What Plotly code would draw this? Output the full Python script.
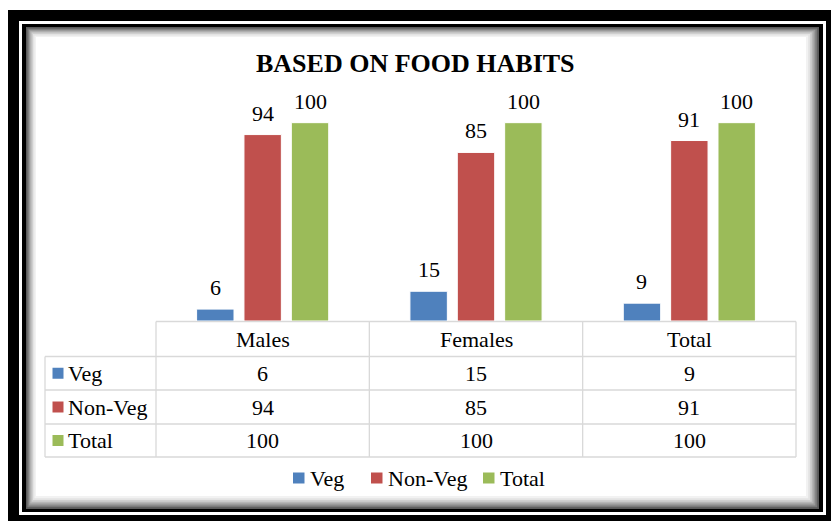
import plotly.graph_objects as go

# ---------------- data ----------------
categories = ["Males", "Females", "Total"]
series_names = ["Veg", "Non-Veg", "Total"]
veg = [6, 15, 9]
non_veg = [94, 85, 91]
total = [100, 100, 100]
series_values = [veg, non_veg, total]
title_text = "BASED ON FOOD HABITS"

# ---------------- style ----------------
W, H = 831, 521
colors = ["#4F81BD", "#C0504D", "#9BBB59"]
FONT = "Liberation Serif"
FS = 22
GRID = "#D9D9D9"

def px(x):
    return x / W

def py(y):
    return 1 - y / H

# plot-area geometry (pixels)
X0, X1 = 156, 796          # category band area == table value columns
BASE, TOP = 321, 83        # baseline and top of y range
BARGAP = 0.334
GROUPGAP = 0.21

fig = go.Figure()
for name, vals, col in zip(series_names, series_values, colors):
    fig.add_trace(go.Bar(
        x=categories, y=vals, name=name,
        marker=dict(color=col, line=dict(color="white", width=1)),
        showlegend=False,
    ))

shapes = []
annotations = []

def rect(x0, y0, x1, y1, fill, layer="below"):
    shapes.append(dict(type="rect", xref="paper", yref="paper",
                       x0=px(x0), x1=px(x1), y0=py(y1), y1=py(y0),
                       fillcolor=fill, line=dict(width=0), layer=layer))

def line(x0, y0, x1, y1, color=GRID, width=1.3):
    shapes.append(dict(type="line", xref="paper", yref="paper",
                       x0=px(x0), x1=px(x1), y0=py(y0), y1=py(y1),
                       line=dict(color=color, width=width), layer="below"))

# ---------- frame ----------
rect(8, 10, 840, 530, "black")
rect(19, 21, 826, 515, "white")
rect(22, 24, 823, 512, "black")
grads = ["#5a5a5a", "#7a7a7a", "#9a9a9a", "#b6b6b6", "#cfcfcf", "#e3e3e3", "#f2f2f2"]
for i, g in enumerate(grads):
    d = 1.4 * i
    rect(26 + d, 27 + d, 819 - 1.8 * i, 509 - 1.8 * i, g)
rect(36, 37, 806, 496, "white")

# ---------- data table ----------
ncat = len(categories)
cw = (X1 - X0) / ncat
rows_y = [321.5, 356.5, 390, 424, 457]
LBL_X0 = 45
line(X0, rows_y[0], X1, rows_y[0])
for yy in rows_y[1:]:
    line(LBL_X0, yy, X1, yy)
line(LBL_X0, rows_y[1], LBL_X0, rows_y[-1])
for j in range(ncat + 1):
    xx = X0 + j * cw
    line(xx, rows_y[0], xx, rows_y[-1])

def row_mid(k):
    return (rows_y[k] + rows_y[k + 1]) / 2

# header
for c in categories:
    annotations.append(dict(xref="x", yref="paper", x=c, y=py(row_mid(0)),
                            text=c, showarrow=False, yanchor="middle",
                            font=dict(family=FONT, size=FS, color="black")))
# rows
for k, (name, vals, col) in enumerate(zip(series_names, series_values, colors)):
    ym = row_mid(k + 1)
    rect(52.5, ym - 5.5, 63.5, ym + 5.5, col, layer="above")
    annotations.append(dict(xref="paper", yref="paper", x=px(65.5), y=py(ym),
                            text=name, showarrow=False, xanchor="left", yanchor="middle",
                            font=dict(family=FONT, size=FS, color="black")))
    for c, v in zip(categories, vals):
        annotations.append(dict(xref="x", yref="paper", x=c, y=py(ym),
                                text=str(v), showarrow=False, yanchor="middle",
                                font=dict(family=FONT, size=FS, color="black")))

# ---------- data labels ----------
slot = cw * (1 - BARGAP) / len(series_names)
for i, vals in enumerate(series_values):
    for c, v in zip(categories, vals):
        annotations.append(dict(xref="x", yref="y", x=c, y=v, text=str(v),
                                showarrow=False, yanchor="bottom",
                                xshift=(i - 1) * slot, yshift=7,
                                font=dict(family=FONT, size=FS, color="black")))

# ---------- legend ----------
LEG_Y = 478
leg_items = [(293, 307.5), (371, 385.5), (483, 497.5)]
for (sx, tx), name, col in zip(leg_items, series_names, colors):
    rect(sx, LEG_Y - 5.5, sx + 11.5, LEG_Y + 5.5, col, layer="above")
    annotations.append(dict(xref="paper", yref="paper", x=px(tx), y=py(LEG_Y),
                            text=name, showarrow=False, xanchor="left", yanchor="middle",
                            font=dict(family=FONT, size=FS, color="black")))

# ---------- title ----------
annotations.append(dict(xref="paper", yref="paper", x=px(415), y=py(63),
                        text="<b>" + title_text + "</b>", showarrow=False,
                        xanchor="center", yanchor="middle",
                        font=dict(family=FONT, size=26, color="black")))

fig.update_layout(
    width=W, height=H, autosize=False,
    margin=dict(l=0, r=0, t=0, b=0, pad=0),
    paper_bgcolor="white", plot_bgcolor="rgba(0,0,0,0)",
    barmode="group", bargap=BARGAP, bargroupgap=GROUPGAP,
    xaxis=dict(domain=[px(X0), px(X1)], visible=False, fixedrange=True),
    yaxis=dict(domain=[py(BASE), py(TOP)], range=[0, 120], visible=False, fixedrange=True),
    shapes=shapes, annotations=annotations,
)

fig.write_html("out.html", config={"displayModeBar": False},
               post_script="document.body.style.margin='0';document.body.style.overflow='hidden';")
